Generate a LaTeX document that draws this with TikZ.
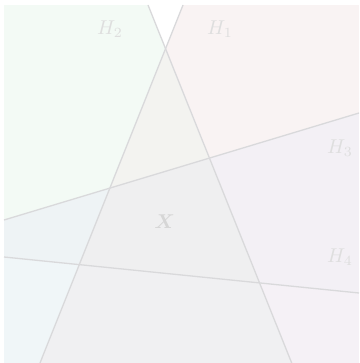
\documentclass[tikz,border=0pt]{standalone}
\usepackage{amsmath,bm}
\definecolor{rgA}{RGB}{243,250,245}
\definecolor{rgB}{RGB}{249,243,243}
\definecolor{rgC}{RGB}{243,243,240}
\definecolor{rgD}{RGB}{238,243,245}
\definecolor{rgE}{RGB}{239,239,240}
\definecolor{rgF}{RGB}{243,240,245}
\definecolor{rgG}{RGB}{240,246,248}
\definecolor{rgH}{RGB}{240,240,242}
\definecolor{rgI}{RGB}{245,241,246}
\definecolor{linegray}{RGB}{217,217,219}
\definecolor{labelgray}{RGB}{222,222,222}
\definecolor{xgray}{RGB}{214,214,214}
% half-plane pieces of the box
\newcommand\hOneIn{(b1) -- (tr) -- (br) -- (b2) -- cycle}
\newcommand\hOneOut{(tl) -- (b1) -- (b2) -- (bl) -- cycle}
\newcommand\hTwoIn{(tl) -- (a1) -- (a2) -- (bl) -- cycle}
\newcommand\hTwoOut{(a1) -- (tr) -- (br) -- (a2) -- cycle}
\newcommand\hThreeIn{(c1) -- (c2) -- (br) -- (bl) -- cycle}
\newcommand\hThreeOut{(tl) -- (tr) -- (c2) -- (c1) -- cycle}
\newcommand\hFourIn{(tl) -- (tr) -- (d2) -- (d1) -- cycle}
\newcommand\hFourOut{(d1) -- (d2) -- (br) -- (bl) -- cycle}
\newcommand\regionfill[5]{\begin{scope}\clip #1; \clip #2; \clip #3; \clip #4; \fill[#5] (tl) rectangle (br);\end{scope}}
\begin{document}
\begin{tikzpicture}[x=0.5pt,y=-0.5pt,
  hline/.style={draw=linegray,line width=0.65pt},
  lbl/.style={text=labelgray,inner sep=0pt}]
\useasboundingbox (0,0) rectangle (359,363);
\coordinate (tl) at (4,5);
\coordinate (tr) at (359,5);
\coordinate (br) at (359,363);
\coordinate (bl) at (4,363);
\coordinate (a1) at (148,5);
\coordinate (a2) at (291.7,363);
\coordinate (b1) at (183,5);
\coordinate (b2) at (40,363);
\coordinate (c1) at (4,220);
\coordinate (c2) at (359,113);
\coordinate (d1) at (4,257);
\coordinate (d2) at (359,293);
% regions
\regionfill{\hOneOut}{\hTwoIn}{\hThreeOut}{\hFourIn}{rgA}
\regionfill{\hOneIn}{\hTwoOut}{\hThreeOut}{\hFourIn}{rgB}
\regionfill{\hOneIn}{\hTwoIn}{\hThreeOut}{\hFourIn}{rgC}
\regionfill{\hOneOut}{\hTwoIn}{\hThreeIn}{\hFourIn}{rgD}
\regionfill{\hOneIn}{\hTwoIn}{\hThreeIn}{\hFourIn}{rgE}
\regionfill{\hOneIn}{\hTwoOut}{\hThreeIn}{\hFourIn}{rgF}
\regionfill{\hOneOut}{\hTwoIn}{\hThreeIn}{\hFourOut}{rgG}
\regionfill{\hOneIn}{\hTwoIn}{\hThreeIn}{\hFourOut}{rgH}
\regionfill{\hOneIn}{\hTwoOut}{\hThreeIn}{\hFourOut}{rgI}
% boundary lines
\draw[hline] (a1) -- (a2);
\draw[hline] (b1) -- (b2);
\draw[hline] (c1) -- (c2);
\draw[hline] (d1) -- (d2);
% labels
\node[lbl] (l1) at (220,29) {$H_1$};
\node[lbl] (l2) at (110,29) {$H_2$};
\node[lbl] (l3) at (340,148) {$H_3$};
\node[lbl] (l4) at (340,257) {$H_4$};
\node[lbl,text=xgray] (lx) at (164.5,222) {$\bm{X}$};
\end{tikzpicture}
\end{document}
